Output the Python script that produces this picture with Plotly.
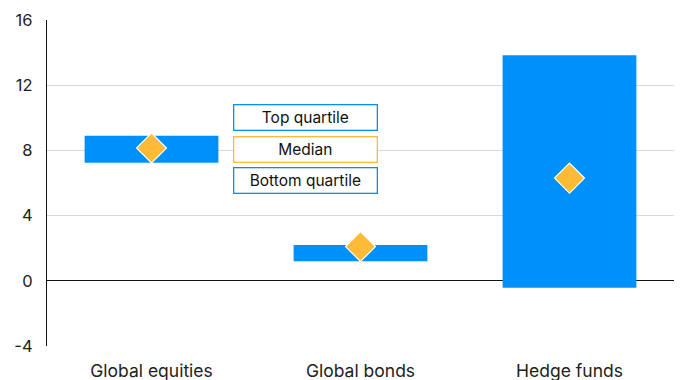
import plotly.graph_objects as go

# Return ranges by asset class (%)
categories = ["Global equities", "Global bonds", "Hedge funds"]
top_quartile = [8.9, 2.2, 13.83]
bottom_quartile = [7.25, 1.2, -0.42]
median = [8.15, 2.1, 6.3]

legend_labels = ["Top quartile", "Median", "Bottom quartile"]
y_ticks = [-4, 0, 4, 8, 12, 16]
y_tick_text = ["-4", "0", "4", "8", "12", "16"]

BLUE = "#0090FA"
GOLD = "#FFBB38"
FONT = "Inter"

fig = go.Figure()

fig.add_trace(go.Bar(
    x=categories,
    y=[t - b for t, b in zip(top_quartile, bottom_quartile)],
    base=bottom_quartile,
    width=0.64,
    marker=dict(color=BLUE, line=dict(width=0)),
    hoverinfo="skip",
    showlegend=False,
))

fig.add_trace(go.Scatter(
    x=categories,
    y=median,
    mode="markers",
    marker=dict(symbol="diamond", size=23, color=GOLD,
                line=dict(color="white", width=1.2)),
    showlegend=False,
))

# Key boxes
key_y = [0.700, 0.603, 0.507]
key_border = [BLUE, GOLD, BLUE]
for label, yy, bc in zip(legend_labels, key_y, key_border):
    fig.add_annotation(
        xref="paper", yref="paper", x=0.4115, y=yy,
        xanchor="center", yanchor="middle",
        text=label, showarrow=False,
        width=142, height=24, borderpad=0,
        bordercolor=bc, borderwidth=1.3, bgcolor="white",
        font=dict(family=FONT, size=15.5, color="#111111"),
    )

fig.update_layout(
    width=682, height=380,
    margin=dict(l=47, r=8, t=20, b=34),
    plot_bgcolor="white", paper_bgcolor="white",
    font=dict(family=FONT, size=16, color="#222222"),
    bargap=0.36,
)

fig.update_xaxes(
    showgrid=False, showline=False, ticks="", automargin=False,
    ticklabelstandoff=12,
    tickfont=dict(family=FONT, size=17.5, color="#222222"),
)
fig.update_yaxes(
    range=[-4, 16], tickvals=y_ticks, ticktext=y_tick_text,
    showgrid=True, gridcolor="#D9D9D9", gridwidth=1.3,
    zeroline=True, zerolinecolor="#111111", zerolinewidth=1.3,
    showline=True, linecolor="#111111", linewidth=1.3,
    ticks="", ticklabelstandoff=10, automargin=False,
    tickfont=dict(family=FONT, size=16.5, color="#222222"),
)

fig.write_html("out.html")
